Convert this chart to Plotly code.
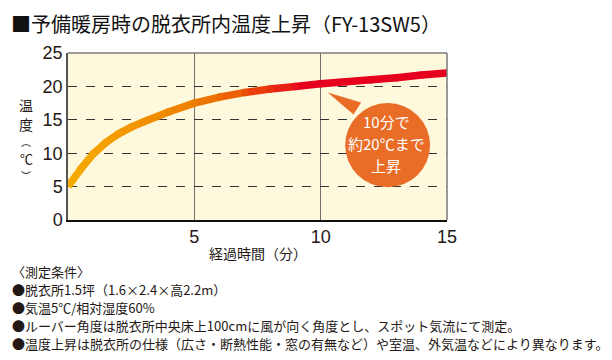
import plotly.graph_objects as go

# ---- data ----
minutes = [0, 0.5, 1, 1.5, 2, 2.5, 3, 4, 5, 6, 7, 8, 9, 10, 11, 12, 13, 14, 15]
temperature = [5.0, 7.6, 9.9, 11.6, 12.9, 13.9, 14.7, 16.2, 17.5, 18.4, 19.1, 19.6, 20.0, 20.4, 20.7, 21.0, 21.3, 21.7, 22.0]
y_ticks = [0, 5, 10, 15, 20, 25]
x_ticks = [5, 10, 15]
x_tick_labels = ["5", "10", "15"]

title_text = "■予備暖房時の脱衣所内温度上昇（FY-13SW5）"
x_title = "経過時間（分）"
y_title_chars = ["温", "度", "︵", "℃", "︶"]
bubble_lines = ["10分で", "約20℃まで", "上昇"]
notes = [
    "〈測定条件〉",
    "●脱衣所1.5坪（1.6×2.4×高2.2m）",
    "●気温5℃/相対湿度60%",
    "●ルーバー角度は脱衣所中央床上100cmに風が向く角度とし、スポット気流にて測定。",
    "●温度上昇は脱衣所の仕様（広さ・断熱性能・窓の有無など）や室温、外気温などにより異なります。",
]

# colour gradient along time (orange-yellow -> orange -> red)
stops = [(0, (246, 172, 0)), (5, (239, 126, 0)), (6.5, (236, 95, 5)), (9.5, (230, 0, 30)), (15, (230, 0, 30))]


def grad(t):
    for (t0, c0), (t1, c1) in zip(stops[:-1], stops[1:]):
        if t0 <= t <= t1:
            f = (t - t0) / (t1 - t0) if t1 > t0 else 0
            return "rgb(%d,%d,%d)" % tuple(round(a + (b - a) * f) for a, b in zip(c0, c1))
    return "rgb(%d,%d,%d)" % stops[-1][1]


FONT = "Liberation Sans, Arial, Noto Sans CJK JP, sans-serif"
TXT = "#231815"

fig = go.Figure()
for i in range(len(minutes) - 1):
    tm = (minutes[i] + minutes[i + 1]) / 2
    fig.add_trace(go.Scatter(x=minutes[i:i + 2], y=temperature[i:i + 2], mode="lines",
                             line=dict(color=grad(tm), width=7.5),
                             hoverinfo="skip", showlegend=False, cliponaxis=False))
# small round dots at joints to smooth corners
fig.add_trace(go.Scatter(x=minutes[1:-1], y=temperature[1:-1], mode="markers",
                         marker=dict(size=7.5, color=[grad(t) for t in minutes[1:-1]], line=dict(width=0)),
                         hoverinfo="skip", showlegend=False))

# plot area in figure pixels (page has an 8px body margin)
PL, PR, PT, PB = 60, 439, 45, 212
PW, PH = PR - PL, PB - PT


def px(xp):
    return (xp - 8 - PL) / PW


def py(yp):
    return (PB - (yp - 8)) / PH


# speech bubble (tail + circle)
BUB = "#E96D27"
shapes = [
    dict(type="path", xref="x", yref="y",
         path="M 10.28 19.1 L 11.6 17.6 L 11.3 15.8 Z",
         fillcolor=BUB, line=dict(width=0), layer="above"),
    dict(type="circle", xref="x", yref="y", x0=12.65 - 1.68, x1=12.65 + 1.68,
         y0=11.2 - 6.3, y1=11.2 + 6.3, fillcolor=BUB, line=dict(width=0), layer="above"),
    # top and right frame
    dict(type="line", xref="paper", yref="paper", x0=0, x1=1, y0=1, y1=1,
         line=dict(color="#7a7a7a", width=1.5), layer="above"),
    dict(type="line", xref="paper", yref="paper", x0=1, x1=1, y0=0, y1=1,
         line=dict(color="#7a7a7a", width=1.5), layer="above"),
]

annotations = [
    dict(text=title_text, xref="paper", yref="paper", x=px(10), y=py(8),
         xanchor="left", yanchor="top", showarrow=False, borderpad=0,
         font=dict(family="Noto Sans CJK JP, Liberation Sans", size=20, color="#111")),
    dict(text=x_title, xref="paper", yref="paper", x=px(258), y=py(253),
         xanchor="center", yanchor="middle", showarrow=False,
         font=dict(family="Noto Sans CJK JP", size=14, color=TXT)),
]
ytitle_y = [105, 124, 141, 158, 175]
ytitle_size = [14, 14, 10, 13, 10]
for ch, yy, fs in zip(y_title_chars, ytitle_y, ytitle_size):
    annotations.append(dict(text=ch, xref="paper", yref="paper", x=px(26), y=py(yy),
                            xanchor="center", yanchor="middle", showarrow=False,
                            borderpad=0,
                            font=dict(family="Noto Sans CJK JP", size=fs, color=TXT)))
bub_y = [121, 143, 165]
for line, yy in zip(bubble_lines, bub_y):
    annotations.append(dict(text=line, xref="paper", yref="paper", x=px(386),
                            y=py(yy), xanchor="center", yanchor="middle", showarrow=False,
                            font=dict(family="Noto Sans CJK JP", size=15, color="white")))
note_y = [271, 289, 307, 325, 343]
for line, yy in zip(notes, note_y):
    annotations.append(dict(text=line, xref="paper", yref="paper", x=px(10),
                            y=py(yy), xanchor="left", yanchor="middle", showarrow=False,
                            font=dict(family="Noto Sans CJK JP", size=13, color=TXT)))

fig.update_layout(
    width=604, height=352,
    margin=dict(l=PL, r=604 - PR, t=PT, b=352 - PB),
    paper_bgcolor="white", plot_bgcolor="#FEF9DC",
    showlegend=False,
    shapes=shapes, annotations=annotations,
    xaxis=dict(range=[0, 15], tickvals=x_ticks, ticktext=x_tick_labels,
               showgrid=True, gridcolor="#707070", gridwidth=1.3,
               showline=True, linecolor="#111", linewidth=1.5, ticks="",
               zeroline=False, fixedrange=True,
               tickfont=dict(family=FONT, size=18, color=TXT)),
    yaxis=dict(range=[0, 25], tickvals=y_ticks,
               showgrid=True, gridcolor="#333", gridwidth=1, griddash="dash",
               showline=True, linecolor="#555", linewidth=1.5, ticks="",
               zeroline=False, fixedrange=True,
               tickfont=dict(family=FONT, size=18, color=TXT)),
)

fig.write_html("out.html")
